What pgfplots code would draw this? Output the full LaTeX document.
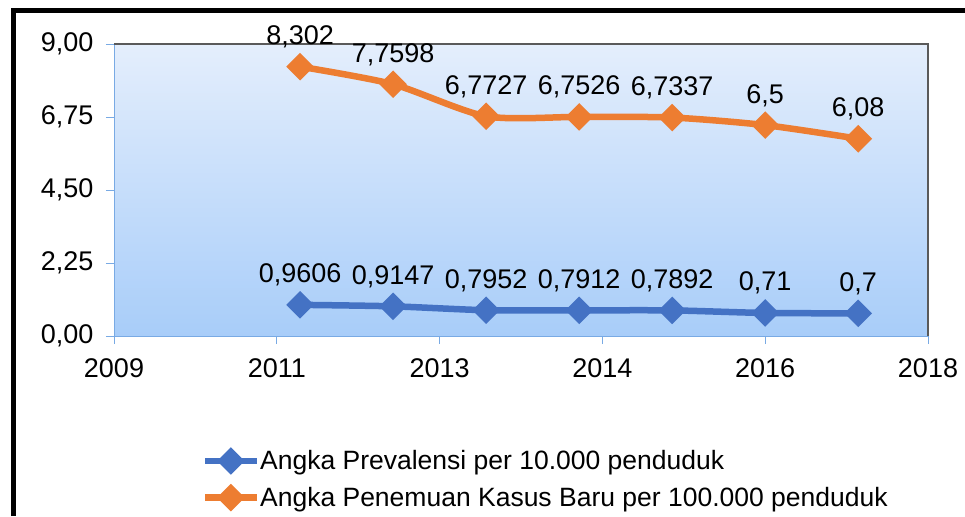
\documentclass[border=0pt]{standalone}
\usepackage{fontspec}
\setmainfont{Liberation Sans}
\usepackage{pgfplots}
\pgfplotsset{compat=1.18}
\usepackage{pgfplotstable}
\definecolor{orng}{HTML}{ED7D31}
\definecolor{blu}{HTML}{4472C4}
\definecolor{axblue}{RGB}{121,170,228}
\definecolor{bgtop}{RGB}{228,238,252}
\definecolor{bgbot}{RGB}{168,205,249}
\definecolor{bordergray}{RGB}{90,90,90}

\pgfplotstableread{
x y label
1.1429 0.9606 0,9606
1.7143 0.9147 0,9147
2.2857 0.7952 0,7952
2.8571 0.7912 0,7912
3.4286 0.7892 0,7892
4.0000 0.71 0,71
4.5714 0.7 0,7
}\prev

\pgfplotstableread{
x y label
1.1429 8.302 8,302
1.7143 7.7598 7,7598
2.2857 6.7727 6,7727
2.8571 6.7526 6,7526
3.4286 6.7337 6,7337
4.0000 6.5 6,5
4.5714 6.08 6,08
}\kasus

\newcommand{\bigfont}{\fontsize{27}{31}\selectfont}
\newcommand{\legfont}{\fontsize{26.5}{31}\selectfont}

\begin{document}
\begin{tikzpicture}[x=1pt,y=1pt]
\useasboundingbox (0,0) rectangle (965,-516);
\begin{axis}[
  at={(114pt,-336pt)}, anchor=south west,
  width=814pt, height=292pt, scale only axis,
  xmin=0, xmax=5, ymin=0, ymax=9,
  xtick={0,1,2,3,4,5},
  xticklabels={2009,2011,2013,2014,2016,2018},
  ytick={0,2.25,4.5,6.75,9},
  yticklabels={{0,00},{2,25},{4,50},{6,75},{9,00}},
  axis x line*=bottom, axis y line*=left,
  axis line style={axblue, line width=1pt, -},
  tick style={axblue, line width=1pt},
  tick align=outside, major tick length=8pt,
  ticklabel style={font=\bigfont, text=black},
  yticklabel style={xshift=-9pt},
  xticklabel style={yshift=-11pt},
  axis background/.style={top color=bgtop, bottom color=bgbot},
  clip=false,
  point meta=explicit symbolic,
  nodes near coords,
  every node near coord/.append style={anchor=base, yshift=22pt, text=black, font=\bigfont},
  legend style={at={(axis description cs:0.108,-0.39)}, anchor=north west,
    draw=none, fill=none, font=\legfont, inner sep=0pt, row sep=15pt,
    nodes={inner sep=0.5pt}},
  legend cell align=left,
  legend image code/.code={\draw[mark repeat=2,mark phase=2,#1] plot coordinates {(0pt,0pt) (25.5pt,0pt) (51pt,0pt)};},
]
\addplot[blu, line width=6.5pt, smooth, tension=0.45, mark=square*, mark size=6.5pt, mark options={rotate=45, solid}]
  table[x=x, y=y, meta=label]{\prev};
\addlegendentry{Angka Prevalensi per 10.000 penduduk}
\addplot[orng, line width=6.5pt, smooth, tension=0.45, mark=square*, mark size=6.5pt, mark options={rotate=45, solid}]
  table[x=x, y=y, meta=label]{\kasus};
\addlegendentry{Angka Penemuan Kasus Baru per 100.000 penduduk}
\draw[bordergray, line width=1.5pt] (rel axis cs:0,1) -- (rel axis cs:1,1) -- (rel axis cs:1,0);
\end{axis}
\draw[black, line width=5pt] (13.5,-516) -- (13.5,-10.5) -- (965,-10.5);
\end{tikzpicture}
\end{document}
